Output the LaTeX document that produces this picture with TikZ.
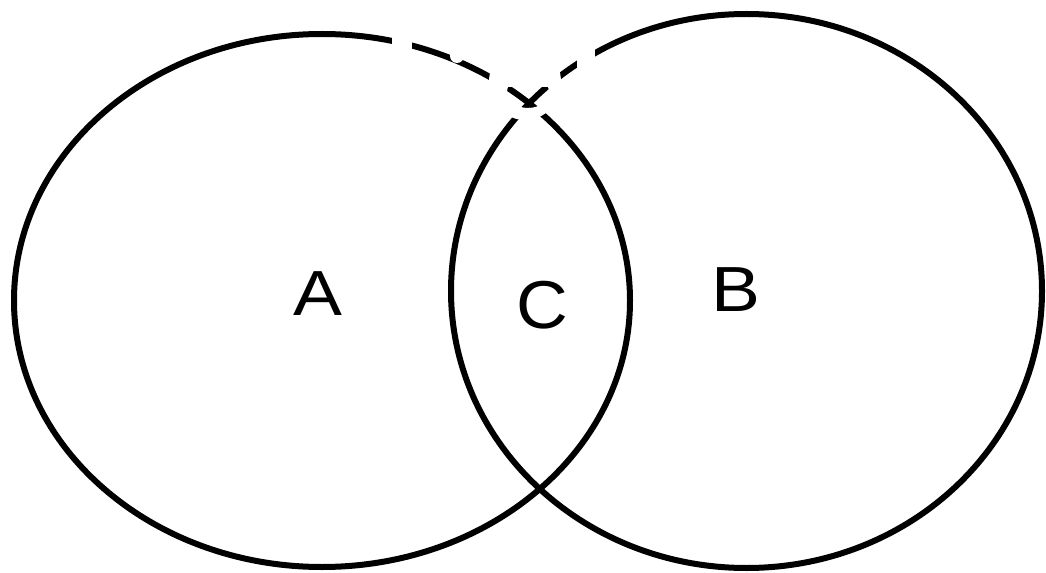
\documentclass[tikz,border=0pt]{standalone}
\usepackage{fontspec}
\setmainfont{Liberation Sans}
\begin{document}
\begin{tikzpicture}[x=1bp,y=-1bp,
  setline/.style={draw=black,line width=6bp},
  setlabel/.style={inner sep=0pt,anchor=base,font=\fontsize{64}{64}\selectfont,xscale=1.15},
  mask/.style={fill=white,draw=none}]
\useasboundingbox[fill=white] (0,0) rectangle (1046,573);
\draw[setline] (322,300.5) ellipse [x radius=308,y radius=266.5];
\draw[setline] (746.5,291) ellipse [x radius=295.5,y radius=277];
\node[setlabel] (A) at (318,315) {A};
\node[setlabel] (B) at (736,312) {B};
\node[setlabel,font=\fontsize{68}{68}\selectfont,xscale=0.92] (C) at (542,328) {C};
% white marks over the top crossing
\fill[mask] (392,15) rectangle (412,100);
\fill[mask] (457,56) circle [radius=7];
\fill[mask,even odd rule] (525,82) ellipse [x radius=36,y radius=38]
   (528,92) ellipse [x radius=21,y radius=16];
\fill[mask] (490,73) rectangle (560,87);
\fill[mask] (577,20) rectangle (595,130);
\end{tikzpicture}
\end{document}
